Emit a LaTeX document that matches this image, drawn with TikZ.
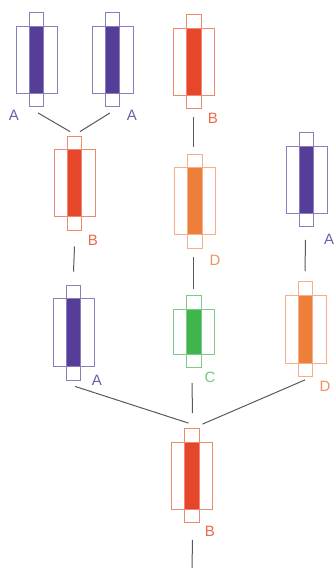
\documentclass[tikz,border=0pt]{standalone}
\usepackage{fontspec}
\setmainfont{Liberation Sans}
\usetikzlibrary{calc}

\definecolor{vioFill}{HTML}{563D97}
\definecolor{vioLine}{HTML}{8A7FBC}
\definecolor{vioText}{HTML}{6A60A8}
\definecolor{redFill}{HTML}{E6462A}
\definecolor{redLine}{HTML}{EE8A72}
\definecolor{redText}{HTML}{EA6A4A}
\definecolor{oraFill}{HTML}{EE7F3B}
\definecolor{oraLine}{HTML}{F4B089}
\definecolor{oraText}{HTML}{EF9158}
\definecolor{grnFill}{HTML}{3FB54B}
\definecolor{grnLine}{HTML}{7ECB87}
\definecolor{grnText}{HTML}{74C580}

\tikzset{
  outerbox/.style={draw=#1Line, line width=0.8pt, minimum width=41pt, inner sep=0pt},
  innerbox/.style={draw=#1Line, line width=0.8pt, minimum width=14.5pt, inner sep=0pt},
  fillbar/.style={fill=#1Fill, minimum width=13.5pt, inner sep=0pt},
  glyphlabel/.style={text=#1Text, font=\fontsize{15}{18}\selectfont, inner sep=0pt},
  link/.style={draw=black!65, line width=1pt}
}

\begin{document}
\begin{tikzpicture}[x=1pt, y=-1pt]
\useasboundingbox (0,0) rectangle (335,568);

% Glyphs: name / x / y / colour / outer height / label x / label y / letter
\foreach \nm/\x/\y/\col/\h/\lx/\ly/\txt in {
    at1/36.5/59.5/vio/67/14/115/A,
    at2/112.5/59.5/vio/67/132/115/A,
    bt/194/61.5/red/67/213/118/B,
    bl/74.5/183/red/67/93/240/B,
    dm/195/201/ora/67/215/260/D,
    ar/306.5/179.5/vio/67/329/239/A,
    ab/73.5/332.5/vio/68/97/380/A,
    cb/194/331.5/grn/45/210/377/C,
    db/305.5/329/ora/68/325/386/D,
    bb/192/475.5/red/67/210/531/B} {
  \node[fillbar=\col, minimum height=\h pt] (\nm-bar) at (\x,\y) {};
  \node[outerbox=\col, minimum height=\h pt] (\nm) at (\x,\y) {};
  \node[innerbox=\col, minimum height={\h pt+27pt}] (\nm-in) at (\x,\y) {};
  \node[glyphlabel=\col] (\nm-lab) at (\lx,\ly) {\txt};
}

% Connectors
\draw[link] ($(at1-in.south)+(1.5,6)$) -- ($(bl-in.north)+(-4.5,-4)$);
\draw[link] ($(at2-in.south)+(-2.5,6)$) -- ($(bl-in.north)+(5.5,-4)$);
\draw[link] ($(bt-in.south)+(-1,8)$) -- ($(dm-in.north)+(-2,-7)$);
\draw[link] ($(bl-in.south)+(0,16)$) -- ($(ab-in.north)+(0,-13)$);
\draw[link] ($(dm-in.south)+(-2,9)$) -- ($(cb-in.north)+(-1,-6)$);
\draw[link] ($(ar-in.south)+(-1,13)$) -- ($(db-in.north)+(-0.5,-10)$);
\draw[link] ($(ab-in.south)+(1.5,6)$) -- ($(bb-in.north)+(-3.5,-5)$);
\draw[link] ($(cb-in.south)+(-2,15)$) -- ($(bb-in.north)+(0.5,-15)$);
\draw[link] ($(db-in.south)+(-0.5,3)$) -- ($(bb-in.north)+(10.5,-4)$);
\coordinate (tail) at (192,568);
\draw[link] ($(bb-in.south)+(0.5,17)$) -- (tail);

\end{tikzpicture}
\end{document}
